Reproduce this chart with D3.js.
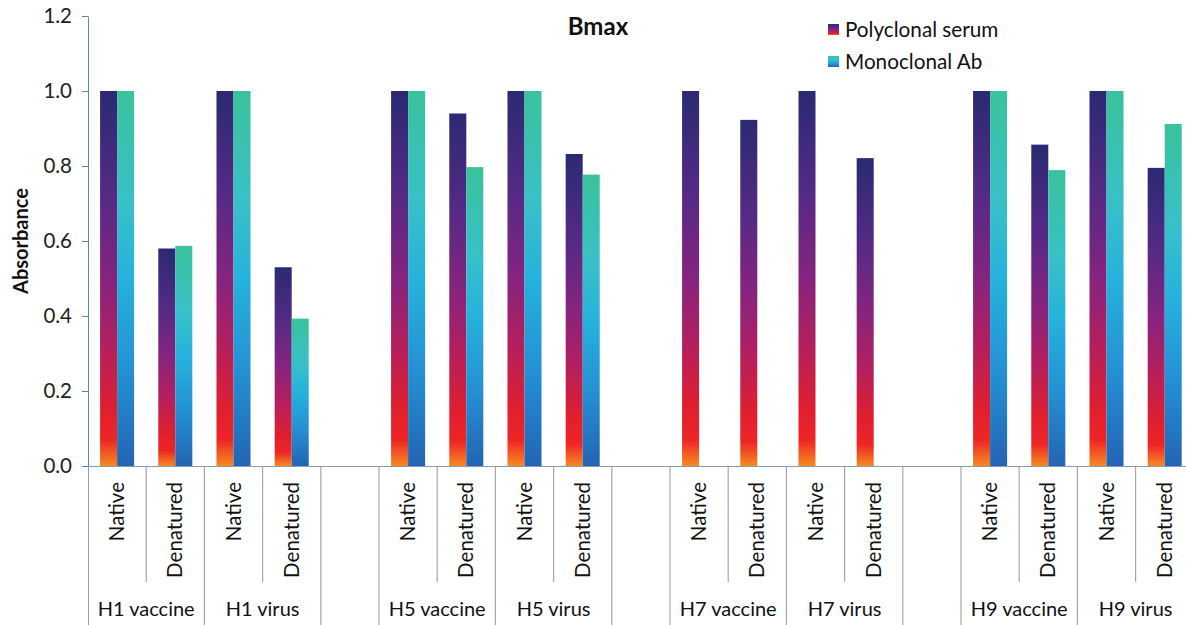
<!DOCTYPE html>
<html><head><meta charset="utf-8">
<script src="https://cdn.jsdelivr.net/npm/d3@7"></script>
<style>body{margin:0;background:#fff}svg{display:block;font-family:Lato,"Open Sans",sans-serif}</style>
</head><body><svg id="c" width="1186" height="625"></svg>
<script>
const groups = ["H1 vaccine","H1 virus","","H5 vaccine","H5 virus","","H7 vaccine","H7 virus","","H9 vaccine","H9 virus"];
const conditions = ["Native","Denatured"];
const seriesNames = ["Polyclonal serum","Monoclonal Ab"];
// one entry per slot (19 slots; null = blank spacer slot)
const slotGroup = ["H1 vaccine","H1 vaccine","H1 virus","H1 virus",null,"H5 vaccine","H5 vaccine","H5 virus","H5 virus",null,"H7 vaccine","H7 vaccine","H7 virus","H7 virus",null,"H9 vaccine","H9 vaccine","H9 virus","H9 virus"];
const slotCond = ["Native","Denatured","Native","Denatured",null,"Native","Denatured","Native","Denatured",null,"Native","Denatured","Native","Denatured",null,"Native","Denatured","Native","Denatured"];
const polyclonal = [1.0,0.58,1.0,0.53,null,1.0,0.94,1.0,0.832,null,1.0,0.923,1.0,0.821,null,1.0,0.857,1.0,0.795];
const monoclonal = [1.0,0.587,1.0,0.393,null,1.0,0.797,1.0,0.777,null,null,null,null,null,null,1.0,0.789,1.0,0.912];
const yTicks = [0,0.2,0.4,0.6,0.8,1.0,1.2];

const svg = d3.select("#c");
const x0 = 88, slotW = 58.2, nSlots = slotGroup.length;
const x = d3.scaleBand().domain(d3.range(nSlots)).range([x0, x0 + nSlots*slotW]).padding(0);
const xs = d3.scaleBand().domain([0,1]).range([0, x.bandwidth()]).paddingInner(0).paddingOuter(0.71);
const y = d3.scaleLinear().domain([0,1.2]).range([466,16]);

const defs = svg.append("defs");
const gPoly = defs.append("linearGradient").attr("id","gPoly").attr("x1",0).attr("y1",0).attr("x2",0).attr("y2",1);
[[0,"#2b2a73"],[0.28,"#552a85"],[0.5,"#86247f"],[0.68,"#b41f5e"],[0.85,"#e01f2e"],[0.93,"#ee2526"],[1,"#f68a22"]].forEach(s=>gPoly.append("stop").attr("offset",s[0]).attr("stop-color",s[1]));
const gMono = defs.append("linearGradient").attr("id","gMono").attr("x1",0).attr("y1",0).attr("x2",0).attr("y2",1);
[[0,"#3ac29c"],[0.3,"#38c0c8"],[0.5,"#26b2dc"],[0.75,"#2490d4"],[1,"#2464b4"]].forEach(s=>gMono.append("stop").attr("offset",s[0]).attr("stop-color",s[1]));

// y axis
const yAxis = d3.axisLeft(y).tickValues(yTicks).tickFormat(d3.format(".1f")).tickSize(6).tickSizeOuter(0);
const ya = svg.append("g").attr("transform",`translate(${x0},0)`).call(yAxis);
ya.select(".domain").attr("stroke","#5a86c0");
ya.selectAll(".tick line").attr("stroke","#5a86c0");
ya.selectAll(".tick text").attr("font-size",20.5).attr("fill","#222").attr("x",-16).attr("font-family","Lato,'Open Sans',sans-serif");

svg.append("text").attr("transform","translate(28,241) rotate(-90)").attr("text-anchor","middle")
  .attr("font-weight","bold").attr("font-size",20).attr("fill","#111").text("Absorbance");

// separators
const xEnd = x0 + nSlots*slotW;
svg.append("line").attr("x1",x0).attr("x2",xEnd).attr("y1",466.5).attr("y2",466.5).attr("stroke","#8a9bb5").attr("stroke-width",1);
svg.append("line").attr("x1",x0+0.5).attr("x2",x0+0.5).attr("y1",466).attr("y2",625).attr("stroke","#999");
for (let i=1;i<=nSlots;i++){
  const xx = x0 + i*slotW;
  const within = slotGroup[i-1] && slotGroup[i] && slotGroup[i-1]===slotGroup[i];
  svg.append("line").attr("x1",xx).attr("x2",xx).attr("y1",467).attr("y2",within?582:625).attr("stroke","#a8a8a8").attr("stroke-width",1.2);
}

// bars
const series = [polyclonal, monoclonal];
series.forEach((vals,si)=>{
  svg.append("g").selectAll("rect").data(vals.map((v,i)=>({v,i})).filter(d=>d.v!=null)).join("rect")
    .attr("x",d=>x(d.i)+xs(si)).attr("width",xs.bandwidth())
    .attr("y",d=>y(d.v)).attr("height",d=>y(0)-y(d.v))
    .attr("fill",si===0?"url(#gPoly)":"url(#gMono)");
});

// condition labels
svg.append("g").selectAll("text").data(slotCond.map((c,i)=>({c,i})).filter(d=>d.c)).join("text")
  .attr("transform",d=>`translate(${x(d.i)+x.bandwidth()/2+7},482) rotate(-90)`)
  .attr("text-anchor","end").attr("font-size",20.5).attr("fill","#111").text(d=>d.c);

// group labels
groups.forEach(g=>{
  if(!g) return;
  const idx = slotGroup.map((s,i)=>s===g?i:-1).filter(i=>i>=0);
  const cx = (x(idx[0]) + x(idx[idx.length-1]) + x.bandwidth())/2;
  svg.append("text").attr("x",cx).attr("y",616).attr("text-anchor","middle").attr("font-size",20).attr("fill","#111").text(g);
});

// title
svg.append("text").attr("x",598).attr("y",35).attr("text-anchor","middle").attr("font-weight","bold").attr("font-size",24).attr("fill","#111").text("Bmax");

// legend
seriesNames.forEach((n,i)=>{
  const ly = 30 + i*32;
  svg.append("rect").attr("x",828).attr("y",ly-6).attr("width",11).attr("height",11).attr("fill",i===0?"url(#gPoly)":"url(#gMono)");
  svg.append("text").attr("x",845).attr("y",ly+7).attr("font-size",20.7).attr("fill","#111").text(n);
});
</script></body></html>
